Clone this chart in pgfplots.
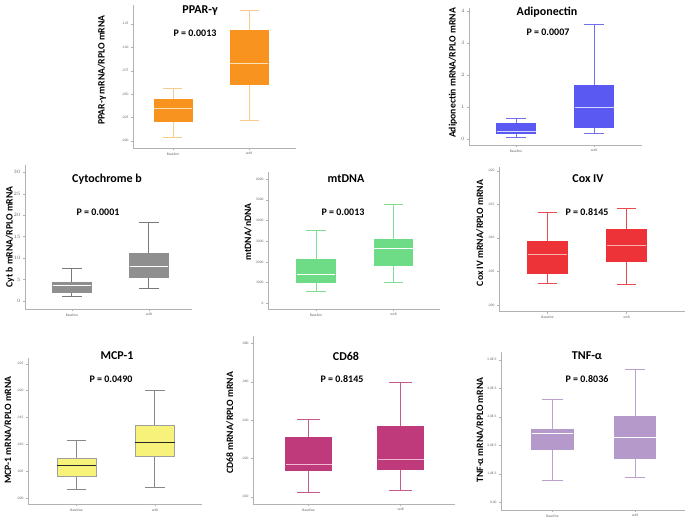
\documentclass[border=0pt]{standalone}
\usepackage{pgfplots}
\pgfplotsset{compat=1.18}
\usepgfplotslibrary{statistics}
\usepackage{fontspec}
\setmainfont{Carlito}
\definecolor{orF}{HTML}{F7931E}\definecolor{orW}{HTML}{F9CB8C}\definecolor{orM}{HTML}{FCE0B8}
\definecolor{blF}{HTML}{5A5AF2}\definecolor{blW}{HTML}{7070EE}\definecolor{blM}{HTML}{D8D8FF}
\definecolor{grF}{HTML}{8F8F8F}\definecolor{grW}{HTML}{7A7A7A}
\definecolor{gnF}{HTML}{6EDC87}\definecolor{gnW}{HTML}{80DD93}
\definecolor{rdF}{HTML}{EE3338}\definecolor{rdW}{HTML}{E84A4E}\definecolor{rdM}{HTML}{F8B0B0}
\definecolor{ylF}{HTML}{F7F27A}\definecolor{ylW}{HTML}{888888}
\definecolor{mgF}{HTML}{BE3A7B}\definecolor{mgW}{HTML}{C55A8F}\definecolor{mgM}{HTML}{F0B8D3}
\definecolor{lvF}{HTML}{B699CB}\definecolor{lvW}{HTML}{BBA0D0}
\newcommand{\bx}[9]{%
\addplot[draw=#8, line width=0.9pt, boxplot/draw direction=y, boxplot prepared={draw position=#1, lower whisker=#2, lower quartile=#3, median=#4, upper quartile=#5, upper whisker=#6, box extend=0.5, whisker extend=0.25},
 boxplot/every box/.style={draw=#7, fill=#7},
 boxplot/every median/.style={draw=#9, line width=0.9pt},
 boxplot/every whisker/.style={draw=#8, line width=0.9pt}] coordinates {};}
\pgfplotsset{panel/.style={scale only axis, anchor=south west, axis x line*=bottom, axis y line*=left,
 boxplot/draw direction=y,
 axis line style={-, draw=gray!60, line width=0.5pt}, tick style={draw=gray!60, line width=0.4pt},
 major tick length=2pt, xtick={1,2}, xticklabels={Baseline,w48},
 tick label style={font=\fontsize{3.6}{4}\selectfont, text=gray!80!black},
 xtick align=outside, ytick align=outside, xticklabel style={yshift=1pt}, yticklabel style={xshift=1pt},
 clip=false, enlargelimits=false}}
\tikzset{ttl/.style={font=\fontsize{12}{14}\selectfont\bfseries}, pv/.style={font=\fontsize{10}{12}\selectfont\bfseries},
 yl/.style={font=\fontsize{9.7}{11}\selectfont\bfseries, rotate=90}}
\begin{document}
\begin{tikzpicture}
\useasboundingbox (0,0) rectangle (689pt,-519pt);
% PPAR-gamma (values x 1000)
\begin{axis}[panel, at={(133pt,-148pt)}, width=163pt, height=143pt, xmin=0.474, xmax=2.618, ymin=-7.48, ymax=145.3,
 ytick={0,25,50,75,100,125}, yticklabels={{,000},{,025},{,050},{,075},{,100},{,125}}]
\bx{1}{4.3}{21.4}{35.2}{44.9}{56.6}{orF}{orW}{orM}
\bx{2}{22.4}{60.9}{83.3}{118.6}{139}{orF}{orW}{orM}
\end{axis}
% Adiponectin
\begin{axis}[panel, at={(469pt,-145pt)}, width=173pt, height=137pt, xmin=0.397, xmax=2.615, ymin=-0.19, ymax=4.09,
 ytick={0,1,2,3,4}]
\bx{1}{0.05}{0.17}{0.23}{0.49}{0.625}{blF}{blW}{blM}
\bx{2}{0.18}{0.365}{0.99}{1.67}{3.58}{blF}{blW}{blM}
\end{axis}
% Cyt b
\begin{axis}[panel, at={(25pt,-309pt)}, width=167pt, height=144pt, xmin=0.39, xmax=2.56, ymin=-1.86, ymax=31.7,
 ytick={0,5,10,15,20,25,30}]
\bx{1}{1.1}{2.1}{3.65}{4.35}{7.5}{grF}{grW}{white}
\bx{2}{2.95}{5.6}{8.1}{11.2}{18.2}{grF}{grW}{white}
\end{axis}
% mtDNA (values in thousands)
\begin{axis}[panel, at={(268pt,-309pt)}, width=172pt, height=137pt, xmin=0.381, xmax=2.6, ymin=-0.275, ymax=6.343,
 ytick={0,1,2,3,4,5,6}, yticklabels={0,1000,2000,3000,4000,5000,6000}]
\bx{1}{0.560}{1.014}{1.400}{2.140}{3.527}{gnF}{gnW}{white}
\bx{2}{1.014}{1.850}{2.657}{3.092}{4.783}{gnF}{gnW}{white}
\end{axis}
% Cox IV (values x 1000)
\begin{axis}[panel, at={(499pt,-311.7pt)}, width=186pt, height=144.7pt, xmin=0.386, xmax=2.74, ymin=-0.95, ymax=20.55,
 ytick={0,5,10,15,20}, yticklabels={{,000},{,005},{,010},{,015},{,020}}]
\bx{1}{3.31}{4.75}{7.58}{9.45}{13.82}{rdF}{rdW}{rdM}
\bx{2}{3.16}{6.48}{8.92}{11.34}{14.35}{rdF}{rdW}{rdM}
\end{axis}
% MCP-1 (values x 1000)
\begin{axis}[panel, at={(28pt,-504.3pt)}, width=174pt, height=146.3pt, xmin=0.382, xmax=2.6, ymin=-1.11, ymax=26.06,
 ytick={0,5,10,15,20,25}, yticklabels={{,000},{,005},{,010},{,015},{,020},{,025}}]
\addplot[draw=ylW, line width=0.9pt, boxplot/draw direction=y, boxplot prepared={draw position=1, lower whisker=1.67, lower quartile=4.09, median=6.13, upper quartile=7.49, upper whisker=10.83, box extend=0.5, whisker extend=0.25},
 boxplot/every box/.style={draw=ylW!80, fill=ylF, line width=0.6pt},
 boxplot/every median/.style={draw=black!85, line width=0.9pt},
 boxplot/every whisker/.style={draw=ylW, line width=0.9pt}] coordinates {};
\addplot[draw=ylW, line width=0.9pt, boxplot/draw direction=y, boxplot prepared={draw position=2, lower whisker=2.04, lower quartile=7.80, median=10.40, upper quartile=13.61, upper whisker=19.99, box extend=0.5, whisker extend=0.25},
 boxplot/every box/.style={draw=ylW!80, fill=ylF, line width=0.6pt},
 boxplot/every median/.style={draw=black!85, line width=0.9pt},
 boxplot/every whisker/.style={draw=ylW, line width=0.9pt}] coordinates {};
\end{axis}
% CD68 (values x 1000)
\begin{axis}[panel, at={(253pt,-504pt)}, width=202pt, height=168pt, xmin=0.397, xmax=2.59, ymin=-3.64, ymax=83.8,
 ytick={0,20,40,60,80}, yticklabels={{,000},{,020},{,040},{,060},{,080}}]
\bx{1}{2.45}{14.0}{16.7}{30.9}{40.2}{mgF}{mgW}{mgM}
\bx{2}{3.5}{14.4}{19.6}{36.9}{59.7}{mgF}{mgW}{mgM}
\end{axis}
% TNF-alpha (values x 1000)
\begin{axis}[panel, at={(501pt,-510pt)}, width=184pt, height=158pt, xmin=0.376, xmax=2.606, ymin=-0.27, ymax=5.28,
 ytick={0,1,2,3,4,5}, yticklabels={{0,00},{1,0E-3},{2,0E-3},{3,0E-3},{4,0E-3},{5,0E-3}}]
\bx{1}{0.77}{1.84}{2.43}{2.57}{3.61}{lvF}{lvW}{white}
\bx{2}{0.89}{1.55}{2.28}{3.03}{4.68}{lvF}{lvW}{white}
\end{axis}
% texts
\node[ttl] at (200pt,-11pt) {PPAR-γ};
\node[pv] at (195pt,-33pt) {P = 0.0013};
\node[yl] at (102pt,-70pt) {PPAR-γ mRNA/RPLO mRNA};
\node[ttl] at (547pt,-12pt) {Adiponectin};
\node[pv] at (548pt,-32pt) {P = 0.0007};
\node[yl] at (453pt,-73pt) {Adiponectin mRNA/RPLO mRNA};
\node[ttl] at (107pt,-179pt) {Cytochrome b};
\node[pv] at (98pt,-212pt) {P = 0.0001};
\node[yl] at (10pt,-237pt) {Cyt b mRNA/RPLO mRNA};
\node[ttl] at (346pt,-179pt) {mtDNA};
\node[pv] at (343pt,-212pt) {P = 0.0013};
\node[yl] at (248pt,-232pt) {mtDNA/nDNA};
\node[ttl] at (588pt,-179pt) {Cox IV};
\node[pv] at (587pt,-212pt) {P = 0.8145};
\node[yl] at (480pt,-233pt) {Cox IV mRNA/RPLO mRNA};
\node[ttl] at (117pt,-356pt) {MCP-1};
\node[pv] at (111pt,-379pt) {P = 0.0490};
\node[yl] at (8pt,-430pt) {MCP-1 mRNA/RPLO mRNA};
\node[ttl] at (346pt,-356pt) {CD68};
\node[pv] at (342pt,-379pt) {P = 0.8145};
\node[yl] at (230pt,-423pt) {CD68 mRNA/RPLO mRNA};
\node[ttl] at (587pt,-356pt) {TNF-α};
\node[pv] at (587pt,-379pt) {P = 0.8036};
\node[yl] at (480pt,-430pt) {TNF-α mRNA/RPLO mRNA};
\end{tikzpicture}
\end{document}
